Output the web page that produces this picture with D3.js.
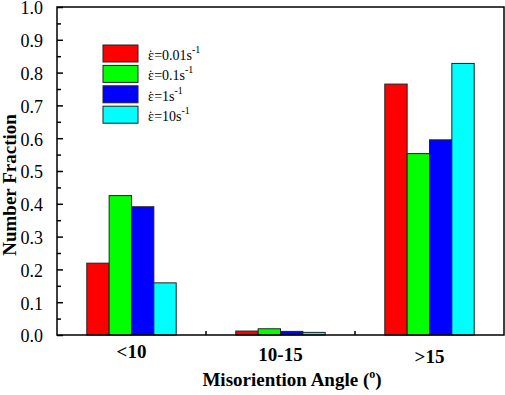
<!DOCTYPE html>
<html><head><meta charset="utf-8">
<script src="https://cdn.jsdelivr.net/npm/d3@7"></script>
<style>body{margin:0;background:#fff}svg{display:block}svg text{font-family:"Liberation Serif","Times New Roman",Times,serif !important}</style>
</head><body>
<svg id="c" width="505" height="395"></svg>
<script>
const categories = ["<10", "10-15", ">15"];
const seriesNames = ["0.01", "0.1", "1", "10"];
const series001 = [0.219, 0.012, 0.765];
const series01  = [0.425, 0.019, 0.553];
const series1   = [0.391, 0.011, 0.595];
const series10  = [0.159, 0.008, 0.828];
const colors = ["#ff0000", "#00ff00", "#0000ff", "#00ffff"];
const yTicks = [0, 0.1, 0.2, 0.3, 0.4, 0.5, 0.6, 0.7, 0.8, 0.9, 1.0];
const yMinor = [0.05, 0.15, 0.25, 0.35, 0.45, 0.55, 0.65, 0.75, 0.85, 0.95];

const allSeries = [series001, series01, series1, series10];
const svg = d3.select("#c");
const L = 57, R = 504, T = 7, B = 335;
const x = d3.scaleBand().domain(categories).range([L, R]).paddingInner(0.4).paddingOuter(0.2);
const xs = d3.scaleBand().domain(d3.range(4)).range([0, x.bandwidth()]);
const y = d3.scaleLinear().domain([0, 1]).range([B, T]);

// bars
categories.forEach((c, ci) => {
  allSeries.forEach((s, si) => {
    svg.append("rect")
      .attr("x", x(c) + xs(si)).attr("y", y(s[ci]))
      .attr("width", xs.bandwidth()).attr("height", B - y(s[ci]))
      .attr("fill", colors[si]).attr("stroke", "#222").attr("stroke-width", 1);
  });
});

// frame
svg.append("rect").attr("x", L).attr("y", T).attr("width", R - L).attr("height", B - T)
  .attr("fill", "none").attr("stroke", "#000").attr("stroke-width", 1.5);

// y axis
const yAxis = d3.axisLeft(y).tickValues(yTicks).tickSize(-6).tickPadding(14).tickFormat(d3.format(".1f"));
const ga = svg.append("g").attr("transform", `translate(${L},0)`).call(yAxis);
ga.select(".domain").remove();
ga.selectAll("line").attr("stroke", "#000").attr("stroke-width", 1.5);
ga.selectAll("text").attr("font-size", 18).attr("fill", "#000").attr("dy", "0.38em");
const gm = svg.append("g").attr("transform", `translate(${L},0)`)
  .call(d3.axisLeft(y).tickValues(yMinor).tickSize(-4).tickFormat(""));
gm.select(".domain").remove();
gm.selectAll("line").attr("stroke", "#000").attr("stroke-width", 1.5);

// x minor ticks between groups
[0, 1].forEach(i => {
  const xv = (x(categories[i]) + x.bandwidth() + x(categories[i + 1])) / 2;
  svg.append("line").attr("x1", xv).attr("x2", xv).attr("y1", B).attr("y2", B - 4)
    .attr("stroke", "#000").attr("stroke-width", 1.5);
});

// x labels
const xLabY = [358, 361, 363];
categories.forEach((c, i) => {
  svg.append("text").attr("x", x(c) + x.bandwidth() / 2).attr("y", xLabY[i])
    .attr("text-anchor", "middle").attr("font-weight", "bold")
    .attr("font-size", 19).text(c);
});

// axis titles
const xt = svg.append("text").attr("x", 292).attr("y", 386).attr("text-anchor", "middle")
  .attr("font-weight", "bold").attr("font-size", 19);
xt.append("tspan").text("Misoriention Angle (");
xt.append("tspan").attr("font-size", 12).attr("dy", -8).text("o");
xt.append("tspan").attr("dy", 8).text(")");

svg.append("text").attr("transform", "translate(16,185) rotate(-90)").attr("text-anchor", "middle")
  .attr("font-weight", "bold").attr("font-size", 19).text("Number Fraction");

// legend
seriesNames.forEach((n, i) => {
  const top = 45 + i * 20.4;
  svg.append("rect").attr("x", 103).attr("y", top).attr("width", 35).attr("height", 17)
    .attr("fill", colors[i]).attr("stroke", "#222").attr("stroke-width", 1);
  const t = svg.append("text").attr("x", 148).attr("y", top + 15).attr("font-size", 14);
  t.append("tspan").text("\u03B5");
  t.append("tspan").attr("dx", -5.6).text("\u02D9");
  t.append("tspan").attr("dx", 1.2).text("=" + n + "s");
  t.append("tspan").attr("font-size", 10).attr("dy", -7).text("-1");
});
</script>
</body></html>
